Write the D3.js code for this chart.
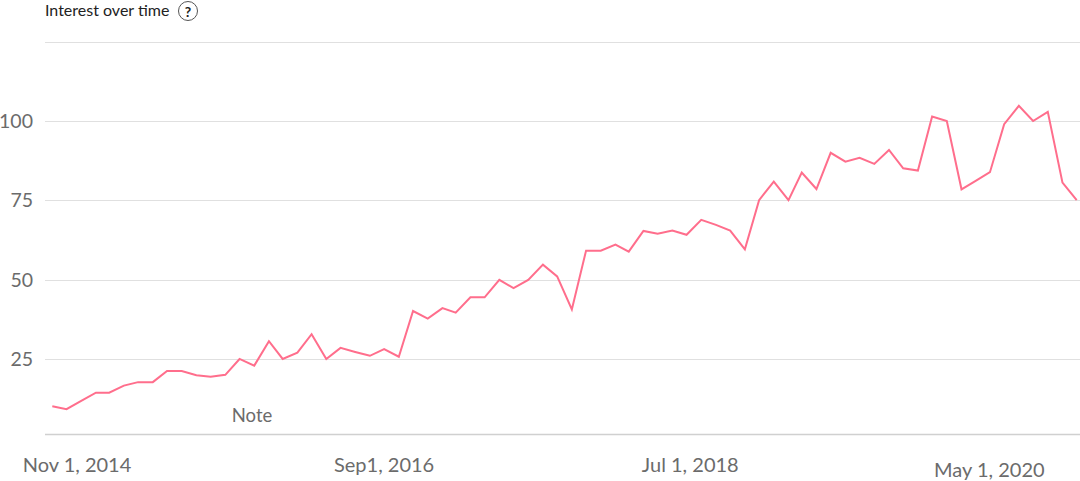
<!DOCTYPE html>
<html>
<head>
<meta charset="utf-8">
<script src="https://cdn.jsdelivr.net/npm/d3@7"></script>
<style>
  body { margin: 0; background: #fff; }
  svg { display: block; font-family: Lato, "Open Sans", sans-serif; }
</style>
</head>
<body>
<script>
// monthly points, Nov 2014 -> Oct 2020
const months = d3.timeMonth.range(new Date(2014, 10, 1), new Date(2020, 10, 1));

const interest = [
  10.2, 9.3, 11.9, 14.5, 14.5, 16.7, 17.8, 17.8, 21.3, 21.3,
  20.0, 19.5, 20.1, 25.1, 23.0, 30.7, 25.1, 27.1, 32.9, 25.1,
  28.6, 27.3, 26.1, 28.2, 25.8, 40.2, 37.8, 41.1, 39.7, 44.5,
  44.5, 50.0, 47.4, 50.0, 54.8, 51.1, 40.7, 59.2, 59.2, 61.1,
  58.9, 65.4, 64.5, 65.5, 64.2, 68.9, 67.3, 65.5, 59.6, 75.1,
  80.9, 75.1, 83.8, 78.6, 90.0, 87.2, 88.4, 86.5, 90.9, 85.1,
  84.4, 101.4, 100.0, 78.5, 81.1, 83.9, 99.0, 104.8, 100.0, 102.9,
  80.6, 75.1
];

const yTicks = [25, 50, 75, 100];
const gridValues = [25, 50, 75, 100, 125];

const tickDates = [new Date(2014, 10, 1), new Date(2016, 8, 1), new Date(2018, 6, 1), new Date(2020, 4, 1)];
const tickLabels = ["Nov 1, 2014", "Sep1, 2016", "Jul 1, 2018", "May 1, 2020"];

const width = 1080;
const height = 481;
const gridLeft = 45;
const baseline = 434;

const svg = d3.select("body")
    .append("svg")
    .attr("width", width)
    .attr("height", height);

const x = d3.scaleTime()
    .domain(d3.extent(months))
    .range([52.3, 1076.7]);

// the date labels sit on a slightly tighter spacing than the line itself
const xLabel = x.copy().range([77, 1067.5]);

const y = d3.scaleLinear()
    .domain([0, 125])
    .range([438.7, 41.6]);

// title + little help circle
svg.append("text")
    .attr("x", gridLeft)
    .attr("y", 16)
    .attr("font-size", 16)
    .attr("fill", "#222")
    .text("Interest over time");

svg.append("circle")
    .attr("cx", 188)
    .attr("cy", 11)
    .attr("r", 9.5)
    .attr("fill", "none")
    .attr("stroke", "#555")
    .attr("stroke-width", 1);

svg.append("text")
    .attr("x", 188)
    .attr("y", 16.5)
    .attr("text-anchor", "middle")
    .attr("font-size", 14)
    .attr("font-weight", "bold")
    .attr("fill", "#222")
    .text("?");

// gridlines
svg.append("g")
    .selectAll("line")
    .data(gridValues)
    .join("line")
    .attr("x1", gridLeft)
    .attr("x2", width)
    .attr("y1", d => Math.round(y(d)) + 0.5)
    .attr("y2", d => Math.round(y(d)) + 0.5)
    .attr("stroke", "#e0e0e0")
    .attr("stroke-width", 1.2);

// bottom axis line
svg.append("line")
    .attr("x1", gridLeft)
    .attr("x2", width)
    .attr("y1", baseline + 0.5)
    .attr("y2", baseline + 0.5)
    .attr("stroke", "#d0d0d0")
    .attr("stroke-width", 1.5);

// y labels
svg.append("g")
    .selectAll("text")
    .data(yTicks)
    .join("text")
    .attr("x", 33)
    .attr("y", d => y(d))
    .attr("dy", "0.35em")
    .attr("text-anchor", "end")
    .attr("font-size", 19.5)
    .attr("fill", "#6b6b6b")
    .text(d => d);

// x labels (the last one hangs a bit lower and further left in the original)
const lastTick = tickDates.length - 1;
svg.append("g")
    .selectAll("text")
    .data(tickDates)
    .join("text")
    .attr("x", d => xLabel(d))
    .attr("dx", (d, i) => i === lastTick ? -8 : 0)
    .attr("y", (d, i) => i === lastTick ? 477 : 471.5)
    .attr("text-anchor", "middle")
    .attr("font-size", 20)
    .attr("fill", "#6b6b6b")
    .text((d, i) => tickLabels[i]);

svg.append("text")
    .attr("x", 252)
    .attr("y", 422)
    .attr("text-anchor", "middle")
    .attr("font-size", 18.5)
    .attr("fill", "#6b6b6b")
    .text("Note");

// the line
const line = d3.line()
    .x((d, i) => x(months[i]))
    .y(d => y(d));

svg.append("path")
    .datum(interest)
    .attr("d", line)
    .attr("fill", "none")
    .attr("stroke", "#ff6e8c")
    .attr("stroke-width", 2)
    .attr("stroke-linejoin", "miter");
</script>
</body>
</html>
